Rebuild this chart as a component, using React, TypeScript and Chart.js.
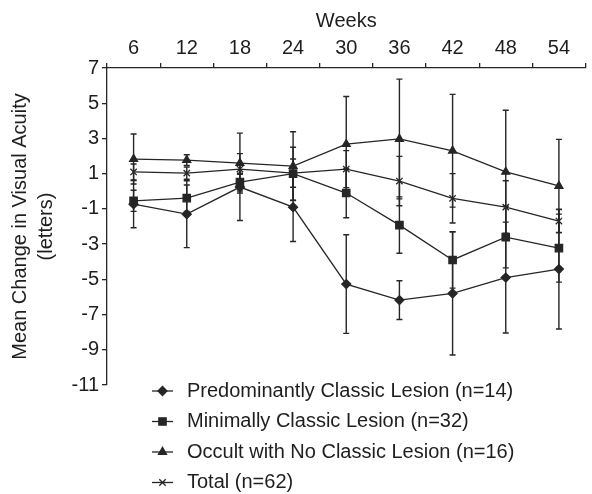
import React, { useEffect, useRef } from 'react';
import { Chart, registerables } from 'chart.js';
import { drawPoint } from 'chart.js/helpers';

Chart.register(...registerables);

// ---- data ----
const weeks = ['6', '12', '18', '24', '30', '36', '42', '48', '54'];

const predominantLabel = 'Predominantly Classic Lesion (n=14)';
const predominantMean = [-0.73, -1.3, 0.24, -0.9, -5.27, -6.18, -5.8, -4.9, -4.42];
const predominantErr = [1.34, 1.9, 1.9, 1.95, 2.8, 1.1, 3.5, 3.15, 3.4];

const minimalLabel = 'Minimally Classic Lesion (n=32)';
const minimalMean = [-0.54, -0.39, 0.52, 1.0, -0.1, -1.92, -3.9, -2.6, -3.23];
const minimalErr = [0.6, 0.75, 0.5, 1.5, 1.4, 1.6, 1.6, 1.75, 1.93];

const occultLabel = 'Occult with No Classic Lesion (n=16)';
const occultMean = [1.83, 1.77, 1.6, 1.43, 2.68, 2.97, 2.3, 1.1, 0.3];
const occultErr = [1.42, 0.3, 1.7, 1.95, 2.7, 3.4, 3.2, 3.5, 2.65];

const totalLabel = 'Total (n=62)';
const totalMean = [1.1, 1.03, 1.26, 1.03, 1.26, 0.58, -0.4, -0.9, -1.69];
const totalErr = [0.45, 0.35, 0.3, 0.8, 1.05, 1.4, 1.4, 1.5, 0.65];

const yMin = -11;
const yMax = 7;
const yStep = 2;

const xTitle = 'Weeks';
const yTitle = ['Mean Change in Visual Acuity', '(letters)'];

// ---- style ----
const FONT = "'Liberation Sans', Arial, Helvetica, sans-serif";
const INK = '#1e1e1e';
const LINE = '#262626';

const errorBarPlugin = {
  id: 'errorBars',
  beforeDatasetsDraw(chart: any, _args: any, opts: any) {
    const { ctx, scales } = chart;
    const x = scales.x;
    const y = scales.y;
    ctx.save();
    ctx.strokeStyle = LINE;
    ctx.lineWidth = 1.4;
    chart.data.datasets.forEach((ds: any, di: number) => {
      const errs: number[] = opts.errors[di];
      ds.data.forEach((v: number, i: number) => {
        const px = x.getPixelForValue(i);
        const top = y.getPixelForValue(v + errs[i]);
        const bot = y.getPixelForValue(v - errs[i]);
        ctx.beginPath();
        ctx.moveTo(px, top);
        ctx.lineTo(px, bot);
        ctx.moveTo(px - 3, top);
        ctx.lineTo(px + 3, top);
        ctx.moveTo(px - 3, bot);
        ctx.lineTo(px + 3, bot);
        ctx.stroke();
      });
    });
    ctx.restore();
  },
};

const customLegendPlugin = {
  id: 'customLegend',
  afterDraw(chart: any, _args: any, opts: any) {
    const { ctx, chartArea } = chart;
    ctx.save();
    chart.data.datasets.forEach((ds: any, i: number) => {
      const yy = chartArea.bottom + opts.firstOffset + i * opts.spacing;
      ctx.strokeStyle = LINE;
      ctx.lineWidth = 1.3;
      ctx.beginPath();
      ctx.moveTo(opts.x, yy);
      ctx.lineTo(opts.x + 21, yy);
      ctx.stroke();
      ctx.fillStyle = LINE;
      ctx.strokeStyle = LINE;
      ctx.lineWidth = 1.3;
      drawPoint(ctx, { pointStyle: ds.pointStyle, radius: ds.pointRadius, rotation: 0, borderWidth: 1.3 }, opts.x + 10.5, yy);
      ctx.fillStyle = INK;
      ctx.font = `20px ${FONT}`;
      ctx.textAlign = 'left';
      ctx.textBaseline = 'middle';
      ctx.fillText(ds.label, opts.x + 35, yy);
    });
    ctx.restore();
  },
};

export default function App() {
  const canvasRef = useRef<HTMLCanvasElement | null>(null);

  useEffect(() => {
    if (!canvasRef.current) return;
    const common = {
      borderColor: LINE,
      backgroundColor: LINE,
      pointBackgroundColor: LINE,
      pointBorderColor: LINE,
      borderWidth: 1.3,
      pointBorderWidth: 1.3,
      fill: false,
      tension: 0,
    };
    const chart = new Chart(canvasRef.current, {
      type: 'line',
      data: {
        labels: weeks,
        datasets: [
          { ...common, label: predominantLabel, data: predominantMean, pointStyle: 'rectRot', pointRadius: 4.5 },
          { ...common, label: minimalLabel, data: minimalMean, pointStyle: 'rect', pointRadius: 5.2 },
          { ...common, label: occultLabel, data: occultMean, pointStyle: 'triangle', pointRadius: 4.6 },
          { ...common, label: totalLabel, data: totalMean, pointStyle: 'crossRot', pointRadius: 4.5 },
        ],
      },
      options: {
        responsive: false,
        maintainAspectRatio: false,
        animation: false,
        devicePixelRatio: 1,
        layout: { padding: { left: 0, right: 0, top: 0, bottom: 109 } },
        plugins: {
          legend: { display: false },
          tooltip: { enabled: false },
          errorBars: { errors: [predominantErr, minimalErr, occultErr, totalErr] },
          customLegend: { x: 152, firstOffset: 6, spacing: 30.5 },
        } as any,
        scales: {
          x: {
            type: 'category',
            position: 'top',
            offset: true,
            grid: {
              display: true,
              offset: true,
              drawOnChartArea: false,
              drawTicks: true,
              tickLength: 5,
              color: LINE,
              lineWidth: 1.3,
            },
            border: { display: true, color: LINE, width: 1.3 },
            ticks: { color: INK, font: { family: FONT, size: 20 }, padding: 3, maxRotation: 0, autoSkip: false },
            title: { display: true, text: xTitle, color: INK, font: { family: FONT, size: 20, lineHeight: 1.2 }, padding: { top: 9, bottom: 0 } },
            afterFit(scale: any) {
              scale.height = 68;
            },
          },
          y: {
            type: 'linear',
            position: 'left',
            min: yMin,
            max: yMax,
            grid: {
              display: true,
              drawOnChartArea: false,
              drawTicks: true,
              tickLength: 5,
              color: LINE,
              lineWidth: 1.3,
            },
            border: { display: true, color: LINE, width: 1.3 },
            ticks: { stepSize: yStep, color: INK, font: { family: FONT, size: 20 }, padding: 3 },
            title: { display: true, text: yTitle, color: INK, font: { family: FONT, size: 20, lineHeight: 1.33 }, padding: { top: 7, bottom: 0 } },
            afterFit(scale: any) {
              scale.width = 107;
            },
          },
        },
      } as any,
      plugins: [errorBarPlugin, customLegendPlugin],
    });
    return () => chart.destroy();
  }, []);

  return (
    <div style={{ position: 'fixed', left: 0, top: 0, width: 592, height: 494, background: '#fff' }}>
      <canvas ref={canvasRef} width={592} height={494} style={{ width: 592, height: 494, display: 'block' }} />
    </div>
  );
}
